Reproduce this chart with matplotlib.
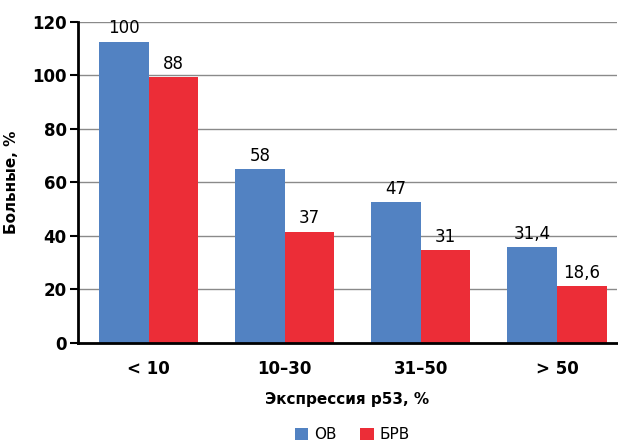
import numpy as np
import matplotlib.pyplot as plt

plt.rcParams['font.family'] = ['Liberation Sans Narrow', 'DejaVu Sans']

categories = ['< 10', '10–30', '31–50', '> 50']
ov_height = [112.6, 65.0, 52.8, 35.8]
brv_height = [99.3, 41.6, 34.8, 21.3]
ov_labels = ['100', '58', '47', '31,4']
brv_labels = ['88', '37', '31', '18,6']

blue = '#5282c2'
red = '#ec2d37'

fig = plt.figure(figsize=(6.18, 4.46), dpi=100)
ax = fig.add_axes([0.126, 0.231, 0.872, 0.72])

x = np.arange(len(categories))
w = 0.365
b1 = ax.bar(x - w / 2, ov_height, width=w, color=blue, label='ОВ', zorder=2)
b2 = ax.bar(x + w / 2, brv_height, width=w, color=red, label='БРВ', zorder=2)

for bars, labs in ((b1, ov_labels), (b2, brv_labels)):
    for r, t in zip(bars, labs):
        ax.annotate(t, (r.get_x() + r.get_width() / 2, r.get_height()),
                    xytext=(0, 3), textcoords='offset points',
                    ha='center', va='bottom', fontsize=12, zorder=3)

ax.set_ylim(0, 120)
ax.set_xlim(-0.52, 3.44)
ax.set_yticks(range(0, 121, 20))
ax.yaxis.grid(True, color='#8a8a8a', linewidth=1.0, zorder=0)
ax.set_axisbelow(True)

ax.set_xticks(x)
ax.set_xticklabels(categories, fontsize=12, fontweight='bold')
ax.tick_params(axis='x', length=0, pad=12)
ax.tick_params(axis='y', length=6, width=1.5, labelsize=12, pad=2)
for lab in ax.get_yticklabels():
    lab.set_fontweight('bold')

for s in ('top', 'right'):
    ax.spines[s].set_visible(False)
ax.spines['left'].set_linewidth(2)
ax.spines['bottom'].set_linewidth(2)

ax.set_ylabel('Больные, %', fontsize=11, fontweight='bold')
ax.yaxis.set_label_coords(-0.11, 0.5)
ax.set_xlabel('Экспрессия p53, %', fontsize=11, fontweight='bold', labelpad=10)

fig.legend(handles=[b1, b2], loc='center', bbox_to_anchor=(0.57, 0.025),
           ncol=2, frameon=False, fontsize=11, handlelength=0.9, handleheight=0.9,
           handletextpad=0.4, columnspacing=1.5)

fig.savefig('out.png', dpi=100)
